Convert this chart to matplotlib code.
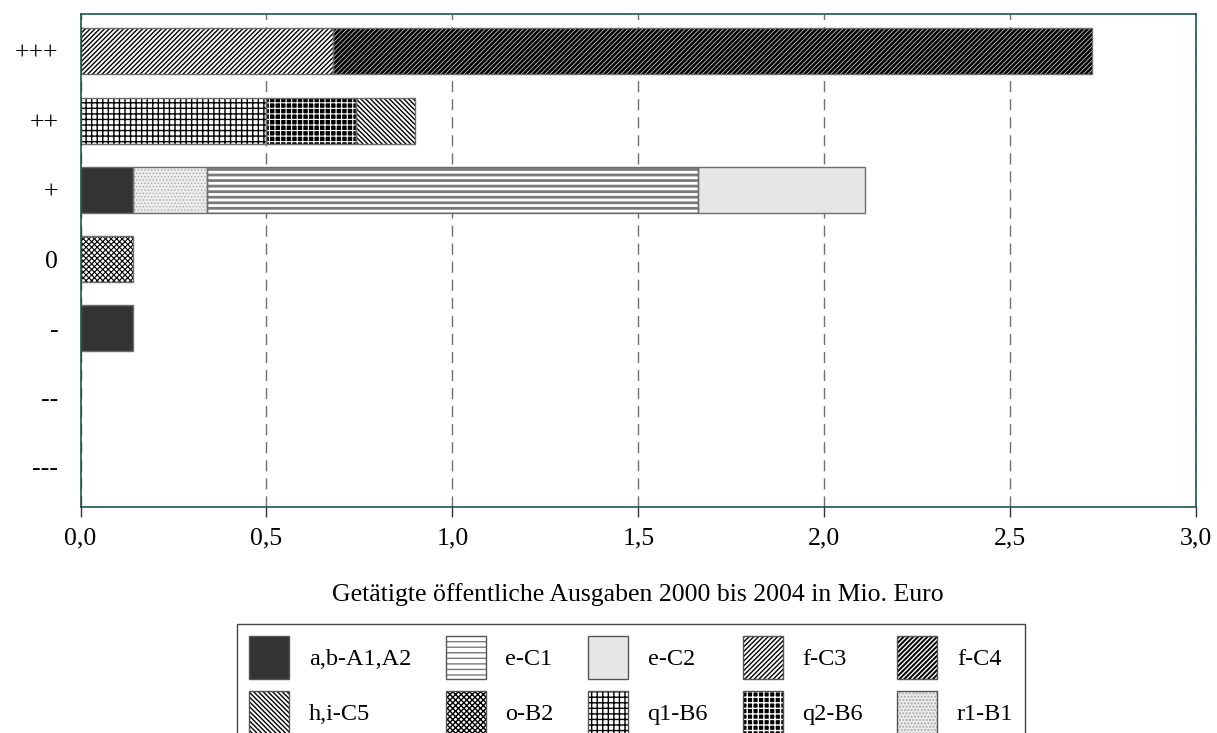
import matplotlib
matplotlib.use('Agg')
import matplotlib.pyplot as plt
from matplotlib.legend_handler import HandlerTuple
import numpy as np

plt.rcParams['font.family'] = ['Liberation Serif', 'DejaVu Serif']
plt.rcParams['font.size'] = 18.5
plt.rcParams['hatch.linewidth'] = 1.0

categories = ['+++', '++', '+', '0', '-', '--', '---']

# Mio. Euro per segment, one value per category (top to bottom)
ab_A1A2 = [0, 0, 0.14, 0, 0.14, 0, 0]
r1_B1 = [0, 0, 0.20, 0, 0, 0, 0]
e_C1 = [0, 0, 1.32, 0, 0, 0, 0]
e_C2 = [0, 0, 0.45, 0, 0, 0, 0]
f_C3 = [0.68, 0, 0, 0, 0, 0, 0]
f_C4 = [2.04, 0, 0, 0, 0, 0, 0]
q1_B6 = [0, 0.50, 0, 0, 0, 0, 0]
q2_B6 = [0, 0.24, 0, 0, 0, 0, 0]
hi_C5 = [0, 0.16, 0, 0, 0, 0, 0]
o_B2 = [0, 0, 0, 0.14, 0, 0, 0]

xticks = [0.0, 0.5, 1.0, 1.5, 2.0, 2.5, 3.0]
legend_order = ['a,b-A1,A2', 'e-C1', 'e-C2', 'f-C3', 'f-C4',
                'h,i-C5', 'o-B2', 'q1-B6', 'q2-B6', 'r1-B1']

# name, values, face, hatch colour, hatch, hatch lw
series = [
    ('a,b-A1,A2', ab_A1A2, '#333333', '#333333', None, 1.0),
    ('r1-B1', r1_B1, '#ececec', '#a8a8a8', '.....', 0.6),
    ('e-C1', e_C1, 'white', '#7a7a7a', '---', 2.0),
    ('e-C2', e_C2, '#e6e6e6', '#e6e6e6', None, 1.0),
    ('f-C3', f_C3, 'white', 'black', '///////', 1.0),
    ('f-C4', f_C4, 'black', 'white', '///////', 0.45),
    ('q1-B6', q1_B6, 'white', 'black', '+++', 1.0),
    ('q2-B6', q2_B6, 'black', 'white', '+++', 0.8),
    ('h,i-C5', hi_C5, 'white', 'black', '\\' * 7, 1.0),
    ('o-B2', o_B2, 'white', 'black', 'xxxxxx', 0.8),
]

fig = plt.figure(figsize=(12.17, 7.33), dpi=100)
ax = fig.add_axes([80.5/1217, 1-507/733, (1196-80.5)/1217, (507-14)/733])

y = np.arange(len(categories))
left = np.zeros(len(categories))
bar_h = 0.665
handles = {}
for name, vals, fc, hc, hatch, hlw in series:
    vals = np.array(vals, dtype=float)
    m = vals > 0
    plt.rcParams['hatch.linewidth'] = hlw
    bars = ax.barh(y[m], vals[m], left=left[m], height=bar_h, color=fc,
                   edgecolor=hc, hatch=hatch, linewidth=0, zorder=2)
    ax.barh(y[m], vals[m], left=left[m], height=bar_h, fill=False,
            edgecolor='#6e6e6e', linewidth=1.0, zorder=3)
    p1 = plt.Rectangle((0, 0), 1, 1, facecolor=fc, edgecolor=hc,
                       hatch=hatch, linewidth=0)
    for b in list(bars) + [p1]:
        if hasattr(b, 'set_hatch_linewidth'):
            b.set_hatch_linewidth(hlw)
    p2 = plt.Rectangle((0, 0), 1, 1, fill=False, edgecolor='#555555',
                       linewidth=1.0)
    handles[name] = (p1, p2)
    left += vals
plt.rcParams['hatch.linewidth'] = 1.0

ax.set_xlim(0, 3.0)
ax.set_ylim(6.58, -0.54)
ax.set_yticks(y)
ax.set_yticklabels(categories)
ax.set_xticks(xticks)
ax.set_xticklabels([f'{v:.1f}'.replace('.', ',') for v in xticks])
ax.tick_params(axis='y', length=0, pad=16)
ax.tick_params(axis='x', length=7, width=1.0, color='#333333', pad=8)
ax.xaxis.grid(True, color='#707070', linestyle=(0, (8, 5)), linewidth=1.0)
ax.set_axisbelow(True)
for s in ax.spines.values():
    s.set_color('#0b4545')
    s.set_linewidth(1.1)
    s.set_zorder(4)

ax.set_xlabel('Getätigte öffentliche Ausgaben 2000 bis 2004 in Mio. Euro',
              labelpad=24)

# legend fills column-wise, reorder to read row-wise
ncol = 5
idx = [r * ncol + c for c in range(ncol) for r in range(2)]
leg_h = [handles[legend_order[i]] for i in idx]
leg_l = [legend_order[i] for i in idx]
leg = fig.legend(leg_h, leg_l, ncol=ncol, loc='upper left',
                 bbox_to_anchor=(237/1217, 1-624/733), borderaxespad=0,
                 handler_map={tuple: HandlerTuple(ndivide=1, pad=0)},
                 fontsize=17.5,
                 handlelength=1.65, handleheight=2.35, handletextpad=0.8,
                 labelspacing=0.5, columnspacing=1.42, borderpad=0.5,
                 fancybox=False, framealpha=1, edgecolor='#444444')
leg.get_frame().set_linewidth(1.0)

fig.savefig('out.png', dpi=100)
